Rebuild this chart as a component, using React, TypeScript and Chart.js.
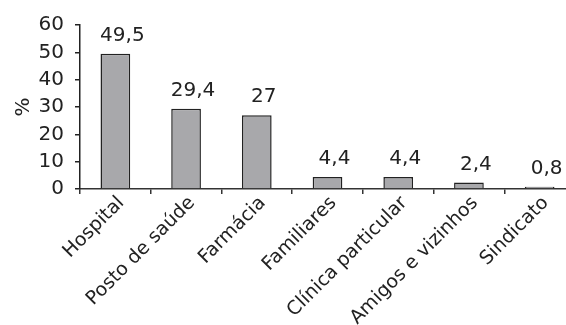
import React, { useEffect, useRef } from "react";
import { Chart, registerables } from "chart.js";

Chart.register(...registerables);

const categories = [
  "Hospital",
  "Posto de saúde",
  "Farmácia",
  "Familiares",
  "Clínica particular",
  "Amigos e vizinhos",
  "Sindicato",
];
const values = [49.5, 29.4, 27, 4.4, 4.4, 2.4, 0.8];
const yTicks = [0, 10, 20, 30, 40, 50, 60];
const yTitle = "%";

const FONT = "'DejaVu Sans', sans-serif";

const valueLabels = {
  id: "valueLabels",
  afterDatasetsDraw(chart: any) {
    const ctx = chart.ctx;
    const meta = chart.getDatasetMeta(0);
    ctx.save();
    ctx.font = `20px ${FONT}`;
    ctx.fillStyle = "#222";
    ctx.textAlign = "center";
    ctx.textBaseline = "bottom";
    meta.data.forEach((bar: any, i: number) => {
      const txt = String(values[i]).replace(".", ",");
      ctx.fillText(txt, bar.x + 7, bar.y - 8);
    });
    ctx.restore();
  },
};

export default function App() {
  const ref = useRef<HTMLCanvasElement>(null);
  useEffect(() => {
    if (!ref.current) return;
    const chart = new Chart(ref.current, {
      type: "bar",
      data: {
        labels: categories,
        datasets: [
          {
            data: values,
            backgroundColor: "#a8a8ab",
            borderColor: "#222",
            borderWidth: 1.5,
            categoryPercentage: 1,
            barPercentage: 0.42,
          },
        ],
      },
      options: {
        responsive: false,
        animation: false,
        layout: { padding: { top: 25, right: 5, left: 0, bottom: 0 } },
        plugins: { legend: { display: false }, tooltip: { enabled: false } },
        scales: {
          x: {
            offset: true,
            grid: {
              offset: true,
              drawOnChartArea: false,
              tickLength: 5,
              color: "#333",
              lineWidth: 1.5,
            },
            border: { color: "#333", width: 1.5 },
            ticks: {
              minRotation: 45,
              maxRotation: 45,
              autoSkip: false,
              padding: -2,
              labelOffset: 6,
              color: "#222",
              font: { family: FONT, size: 19 },
            },
            afterFit: (s: any) => {
              s.height = 136;
            },
          },
          y: {
            min: 0,
            max: 60,
            afterBuildTicks: (s: any) => {
              s.ticks = yTicks.map((v) => ({ value: v }));
            },
            grid: {
              drawOnChartArea: false,
              tickLength: 5,
              color: "#222",
              lineWidth: 1.5,
            },
            border: { color: "#222", width: 1.5 },
            ticks: {
              padding: 11,
              color: "#222",
              font: { family: FONT, size: 20 },
            },
            title: {
              display: true,
              text: yTitle,
              color: "#222",
              font: { family: FONT, size: 20 },
              padding: { top: 12, bottom: 4 },
            },
            afterFit: (s: any) => {
              s.width = 80;
            },
          },
        },
      },
      plugins: [valueLabels],
    });
    return () => chart.destroy();
  }, []);
  return (
    <div
      style={{
        position: "fixed",
        left: 0,
        top: 0,
        width: 566,
        height: 325,
        overflow: "hidden",
        background: "#fff",
      }}
    >
      <canvas ref={ref} width={580} height={325} style={{ width: 580, height: 325, display: "block" }} />
    </div>
  );
}
